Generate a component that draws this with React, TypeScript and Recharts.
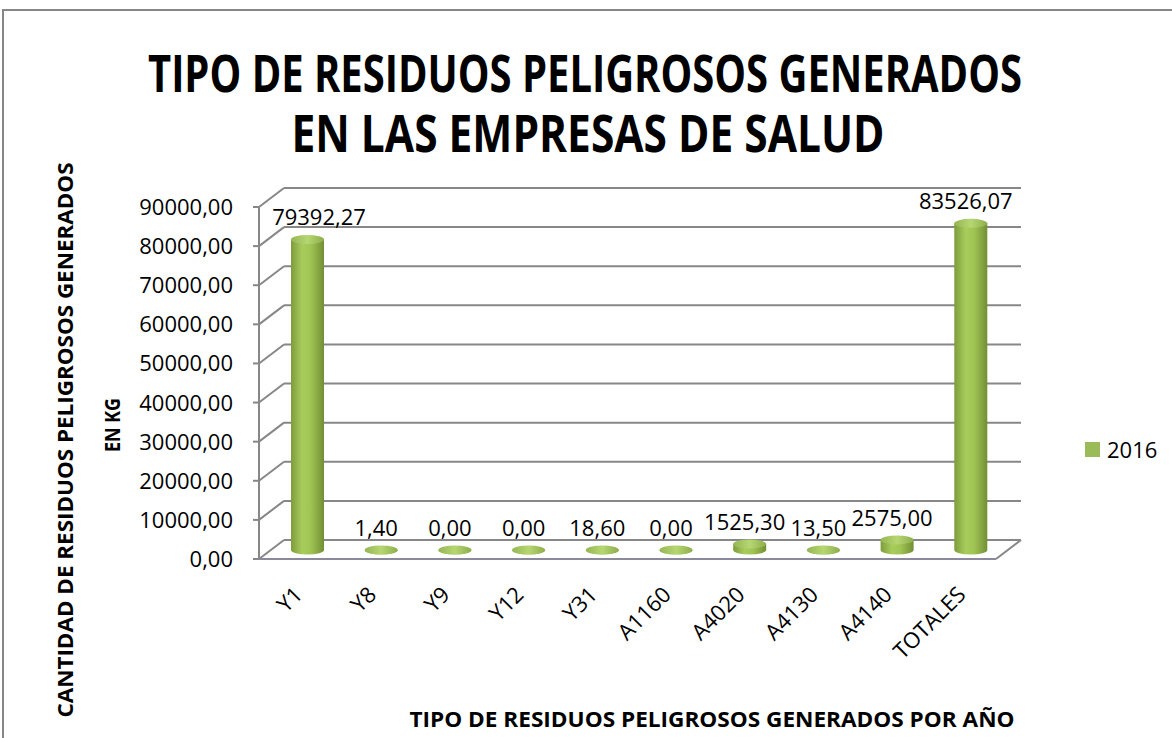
import { Bar, BarChart, CartesianGrid, LabelList, Legend, XAxis, YAxis } from "recharts";

const categories = ["Y1", "Y8", "Y9", "Y12", "Y31", "A1160", "A4020", "A4130", "A4140", "TOTALES"];
const values2016 = [79392.27, 1.4, 0, 0, 18.6, 0, 1525.3, 13.5, 2575, 83526.07];
const yTicks = [0, 10000, 20000, 30000, 40000, 50000, 60000, 70000, 80000, 90000];
const seriesName = "2016";

const chartTitle = ["TIPO DE RESIDUOS PELIGROSOS GENERADOS", "EN LAS EMPRESAS DE SALUD"];
const yTitle = ["CANTIDAD DE RESIDUOS PELIGROSOS GENERADOS", "EN KG"];
const xTitle = "TIPO DE RESIDUOS PELIGROSOS GENERADOS POR AÑO";

const data = categories.map((category, i) => ({ category, value: values2016[i] }));

const FONT = "'Open Sans', 'DejaVu Sans', sans-serif";
const GRID = "#878787";
const GREEN = "#9bbb59";

// 3d depth: plot area is the middle plane where the bars stand
const BACK_DX = 13;
const BACK_DY = -10;
const FRONT_DX = -12;
const FRONT_DY = 9;

const fmt = (v: number) => v.toFixed(2).replace(".", ",");

const renderGridLine = (props: any) => {
  const { x1, y1, x2, index, y, height } = props;
  const isFloor = Math.abs(y1 - (y + height)) < 1;
  const fx = x1 + FRONT_DX;
  const fy = y1 + FRONT_DY;
  return (
    <g key={`grid-${index}`}>
      <line x1={x1 + BACK_DX} y1={y1 + BACK_DY} x2={x2 + BACK_DX} y2={y1 + BACK_DY} stroke={GRID} strokeWidth={2} />
      <line x1={fx} y1={fy} x2={x1 + BACK_DX} y2={y1 + BACK_DY} stroke={GRID} strokeWidth={2} />
      <line x1={fx - 6} y1={fy} x2={fx} y2={fy} stroke={GRID} strokeWidth={2} />
      {isFloor ? (
        <>
          <line x1={fx} y1={fy} x2={x2 + FRONT_DX} y2={fy} stroke="#8a8a9c" strokeWidth={2} />
          <line x1={x2 + FRONT_DX} y1={fy} x2={x2 + BACK_DX} y2={y1 + BACK_DY} stroke={GRID} strokeWidth={2} />
          <line x1={fx} y1={fy} x2={fx} y2={y + FRONT_DY} stroke={GRID} strokeWidth={2} />
        </>
      ) : null}
    </g>
  );
};

const Cylinder = (props: any) => {
  const { x = 0, y = 0, width = 0, height = 0 } = props;
  const rx = width / 2;
  const ry = 4.5;
  const bottom = y + height;
  return (
    <g>
      <path
        d={`M${x},${y} L${x},${bottom} A${rx},${ry} 0 0 0 ${x + width},${bottom} L${x + width},${y} Z`}
        fill="url(#cylBody)"
      />
      <ellipse cx={x + rx} cy={y} rx={rx} ry={ry} fill="url(#cylTop)" />
    </g>
  );
};

const renderValueLabel = (props: any) => {
  const vb = props.viewBox ?? {};
  const x = props.x ?? vb.x ?? 0;
  const y = props.y ?? vb.y ?? 0;
  const width = props.width ?? vb.width ?? 0;
  const text = fmt(Number(props.value));
  const half = (text.length * 12) / 2;
  const cx = Math.max(x + width / 2 - 5, 271 + half);
  return (
    <text x={cx} y={y - 14} textAnchor="middle" fontSize={22} fontFamily={FONT} fill="#000">
      {text}
    </text>
  );
};

const YTick = (props: any) => {
  const { y, payload } = props;
  return (
    <text x={233} y={y + FRONT_DY} dy={8} textAnchor="end" fontSize={22} fontFamily={FONT} fill="#000">
      {fmt(Number(payload.value))}
    </text>
  );
};

const XTick = (props: any) => {
  const { x, payload } = props;
  return (
    <text
      transform={`translate(${x - 4}, 596) rotate(-45)`}
      textAnchor="end"
      fontSize={22}
      fontFamily={FONT}
      fill="#000"
    >
      {payload.value}
    </text>
  );
};

const renderLegend = (props: any) => {
  const item = props.payload?.[0];
  return (
    <div style={{ display: "flex", alignItems: "center", fontFamily: FONT, fontSize: 22, color: "#000" }}>
      <span style={{ width: 15, height: 15, background: item?.color ?? GREEN, marginRight: 7 }} />
      <span style={{ lineHeight: "22px" }}>{item?.value ?? seriesName}</span>
    </div>
  );
};

export default function App() {
  return (
    <div style={{ position: "absolute", left: 0, top: 0, width: 1172, height: 738, overflow: "hidden", background: "#fff" }}>
      <div style={{ position: "absolute", left: 2, top: 9, width: 1300, height: 900, border: "2px solid #878787" }} />
      <BarChart
        width={1172}
        height={738}
        data={data}
        barSize={33}
        margin={{ top: 198, right: 164, left: 211, bottom: 148 }}
        style={{ position: "absolute", left: 0, top: 0 }}
      >
        <defs>
          <linearGradient id="cylBody" x1="0" y1="0" x2="1" y2="0">
            <stop offset="0%" stopColor="#7d9c3c" />
            <stop offset="35%" stopColor="#a9cd5d" />
            <stop offset="60%" stopColor="#a0c453" />
            <stop offset="100%" stopColor="#728f35" />
          </linearGradient>
          <linearGradient id="cylTop" x1="0" y1="0" x2="1" y2="0">
            <stop offset="0%" stopColor="#95b653" />
            <stop offset="50%" stopColor="#b6d672" />
            <stop offset="100%" stopColor="#8eae4c" />
          </linearGradient>
        </defs>
        <CartesianGrid horizontal={renderGridLine} vertical={false} />
        <XAxis
          dataKey="category"
          height={40}
          axisLine={false}
          tickLine={false}
          interval={0}
          tick={XTick}
        />
        <YAxis
          width={60}
          domain={[0, 90000]}
          ticks={yTicks}
          axisLine={false}
          tickLine={false}
          tick={YTick}
        />
        <Legend
          layout="horizontal"
          verticalAlign="middle"
          align="center"
          content={renderLegend}
          wrapperStyle={{ position: "absolute", left: 1085, top: 438, width: 90 }}
        />
        <Bar dataKey="value" name={seriesName} fill={GREEN} shape={Cylinder} isAnimationActive={false}>
          <LabelList dataKey="value" content={renderValueLabel} />
        </Bar>
      </BarChart>
      <svg width={1172} height={738} style={{ position: "absolute", left: 0, top: 0, pointerEvents: "none" }}>
        <text x={585} y={92} textAnchor="middle" fontSize={52} fontWeight={700} fontFamily={FONT} textLength={874} lengthAdjust="spacingAndGlyphs">
          {chartTitle[0]}
        </text>
        <text x={588} y={152} textAnchor="middle" fontSize={52} fontWeight={700} fontFamily={FONT} textLength={593} lengthAdjust="spacingAndGlyphs">
          {chartTitle[1]}
        </text>
        <text transform="translate(73, 440) rotate(-90)" textAnchor="middle" fontSize={22} fontWeight={700} fontFamily={FONT} textLength={555} lengthAdjust="spacingAndGlyphs">
          {yTitle[0]}
        </text>
        <text transform="translate(120, 425) rotate(-90)" textAnchor="middle" fontSize={22} fontWeight={700} fontFamily={FONT} textLength={54} lengthAdjust="spacingAndGlyphs">
          {yTitle[1]}
        </text>
        <text x={712} y={727} textAnchor="middle" fontSize={21} fontWeight={700} fontFamily={FONT} textLength={605} lengthAdjust="spacingAndGlyphs">
          {xTitle}
        </text>
      </svg>
    </div>
  );
}
